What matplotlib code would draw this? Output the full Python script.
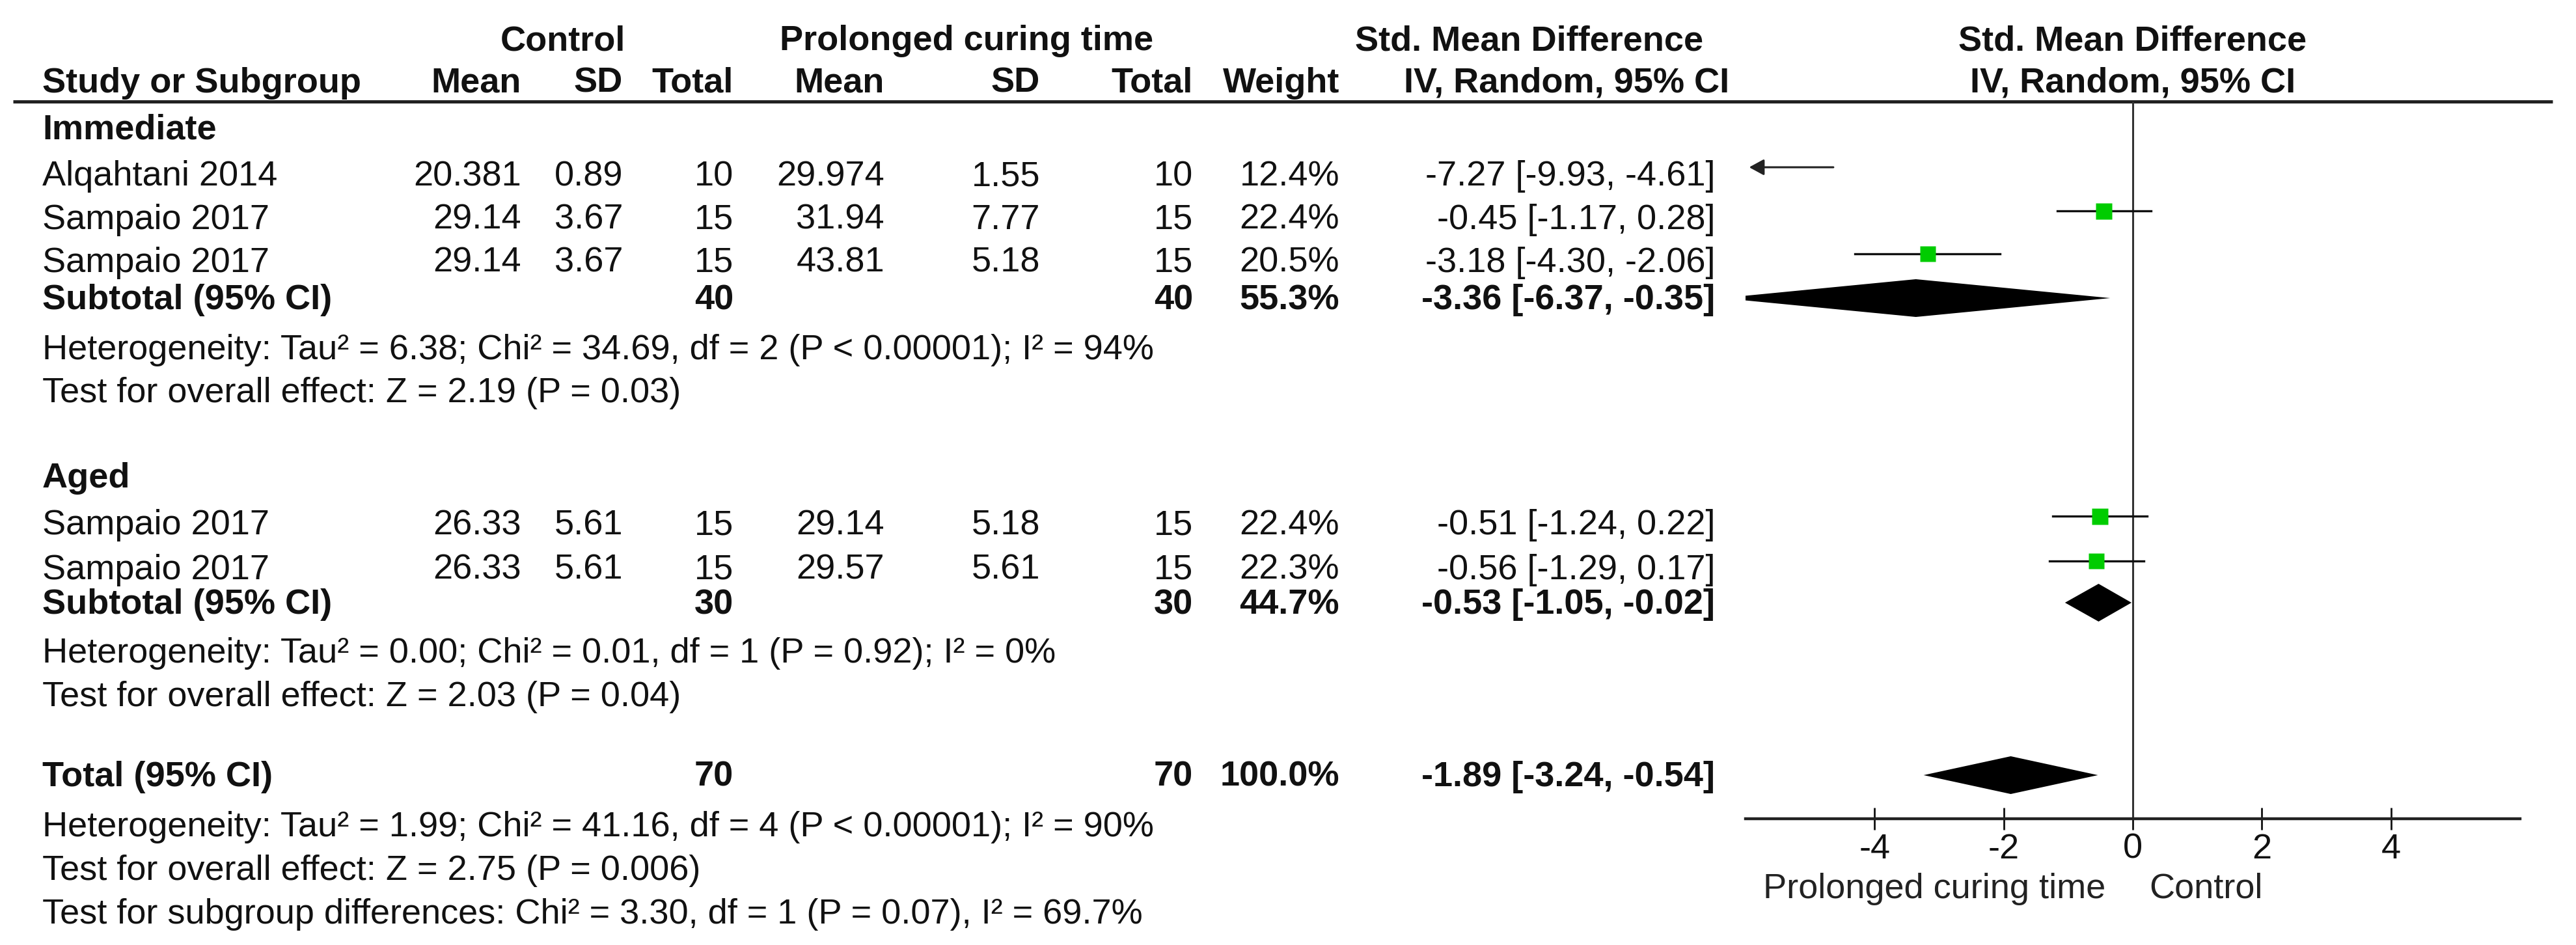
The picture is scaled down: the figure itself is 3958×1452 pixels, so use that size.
import matplotlib
matplotlib.use('Agg')
import matplotlib.pyplot as plt
from matplotlib.patches import Polygon

plt.rcParams['font.family'] = ['Liberation Sans', 'DejaVu Sans']

# study level data
studies = ['Alqahtani 2014', 'Sampaio 2017', 'Sampaio 2017', 'Sampaio 2017', 'Sampaio 2017']
ctrl_mean = [20.381, 29.14, 29.14, 26.33, 26.33]
ctrl_sd = [0.89, 3.67, 3.67, 5.61, 5.61]
ctrl_n = [10, 15, 15, 15, 15]
exp_mean = [29.974, 31.94, 43.81, 29.14, 29.57]
exp_sd = [1.55, 7.77, 5.18, 5.18, 5.61]
exp_n = [10, 15, 15, 15, 15]
weight = [12.4, 22.4, 20.5, 22.4, 22.3]
smd = [-7.27, -0.45, -3.18, -0.51, -0.56]
ci_lo = [-9.93, -1.17, -4.30, -1.24, -1.29]
ci_hi = [-4.61, 0.28, -2.06, 0.22, 0.17]

# subgroups + total
groups = ['Immediate', 'Aged']
group_rows = [[0, 1, 2], [3, 4]]
sub_ctrl_n = [40, 30, 70]
sub_exp_n = [40, 30, 70]
sub_weight = [55.3, 44.7, 100.0]
sub_smd = [-3.36, -0.53, -1.89]
sub_lo = [-6.37, -1.05, -3.24]
sub_hi = [-0.35, -0.02, -0.54]
sub_notes = [
    ['Heterogeneity: Tau² = 6.38; Chi² = 34.69, df = 2 (P < 0.00001); I² = 94%',
     'Test for overall effect: Z = 2.19 (P = 0.03)'],
    ['Heterogeneity: Tau² = 0.00; Chi² = 0.01, df = 1 (P = 0.92); I² = 0%',
     'Test for overall effect: Z = 2.03 (P = 0.04)'],
    ['Heterogeneity: Tau² = 1.99; Chi² = 41.16, df = 4 (P < 0.00001); I² = 90%',
     'Test for overall effect: Z = 2.75 (P = 0.006)',
     'Test for subgroup differences: Chi² = 3.30, df = 1 (P = 0.07), I² = 69.7%'],
]

xticks = [-4, -2, 0, 2, 4]
left_label = 'Prolonged curing time'
right_label = 'Control'

W, H = 3958, 1452
fs = 39
fig = plt.figure(figsize=(W / 100, H / 100), dpi=100)
bg = fig.add_axes([0, 0, 1, 1])
bg.set_xlim(0, W)
bg.set_ylim(H, 0)
bg.axis('off')

# column right edges (px)
cols = [801, 957, 1127, 1359, 1598, 1833, 2058]
ci_x = 2635
x_left = 65
zero_px, unit_px = 3277, 99.2

def txt(x, y, s, ha='right', bold=False):
    bg.text(x, y, s, ha=ha, va='baseline', fontsize=fs,
            fontweight='bold' if bold else 'normal', color='#111111')

# headers
for s, xc in [('Control', 865), ('Prolonged curing time', 1485),
              ('Std. Mean Difference', 2350), ('Std. Mean Difference', zero_px)]:
    txt(xc, 77, s, ha='center', bold=True)
txt(x_left, 142, 'Study or Subgroup', ha='left', bold=True)
for s, xr in zip(['Mean', 'SD', 'Total', 'Mean', 'SD', 'Total', 'Weight'], cols):
    txt(xr, 142, s, bold=True)
txt(2657, 142, 'IV, Random, 95% CI', bold=True)
txt(zero_px, 142, 'IV, Random, 95% CI', ha='center', bold=True)
bg.hlines(156, 20, 3922, color='#222222', lw=3.6)

# forest axes, y in pixel units of the figure
ax = fig.add_axes([(zero_px - 6 * unit_px) / W, 0, 12 * unit_px / W, 1])
ax.patch.set_alpha(0)
ax.set_xlim(-6, 6)
ax.set_ylim(H, 0)
for k in ['top', 'left', 'right']:
    ax.spines[k].set_visible(False)
ax.spines['bottom'].set_position(('data', 1258))
ax.spines['bottom'].set_linewidth(3.2)
ax.spines['bottom'].set_color('#222222')
ax.set_yticks([])
ax.set_xticks(xticks)
ax.set_xticklabels([str(t) for t in xticks])
ax.tick_params(axis='x', direction='inout', length=25, width=2, pad=3,
               labelsize=fs, colors='#111111')
ax.vlines(0, 156, 1258, color='#333333', lw=2.2)

def diamond(y, est, lo, hi, h=29):
    ax.add_patch(Polygon([(lo, y), (est, y - h), (hi, y), (est, y + h)],
                         closed=True, color='black', lw=0))

section_base = [[213, 285, 352, 418, 475, 552, 618], [749, 821, 890, 943, 1018, 1085]]
for g, name in enumerate(groups):
    base = section_base[g]
    txt(x_left, base[0], name, ha='left', bold=True)
    for j, i in enumerate(group_rows[g]):
        y = base[1 + j]
        txt(x_left, y, studies[i], ha='left')
        vals = [f'{ctrl_mean[i]:g}', f'{ctrl_sd[i]:g}', str(ctrl_n[i]),
                f'{exp_mean[i]:g}', f'{exp_sd[i]:g}', str(exp_n[i]), f'{weight[i]:.1f}%']
        for s, xr in zip(vals, cols):
            txt(xr, y, s)
        txt(ci_x, y, f'{smd[i]:.2f} [{ci_lo[i]:.2f}, {ci_hi[i]:.2f}]')
        ym = y - 28
        if smd[i] < -6:
            ax.annotate('', xy=(-5.97, ym), xytext=(ci_hi[i], ym),
                        arrowprops=dict(arrowstyle='-|>,head_length=0.55,head_width=0.3',
                                        color='#222222', lw=2.2, mutation_scale=25))
        else:
            ax.plot([ci_lo[i], ci_hi[i]], [ym, ym], color='#111111', lw=2.4)
            ax.plot(smd[i], ym, marker='s', ms=18 * (weight[i] / 22.4) ** 0.5,
                    color='#00cc00', mec='none')
    ys = base[len(group_rows[g]) + 1]
    txt(x_left, ys, 'Subtotal (95% CI)', ha='left', bold=True)
    for s, xr in zip([str(sub_ctrl_n[g]), str(sub_exp_n[g]), f'{sub_weight[g]:.1f}%'],
                     [cols[2], cols[5], cols[6]]):
        txt(xr, ys, s, bold=True)
    txt(ci_x, ys, f'{sub_smd[g]:.2f} [{sub_lo[g]:.2f}, {sub_hi[g]:.2f}]', bold=True)
    diamond(ys - 17, sub_smd[g], sub_lo[g], sub_hi[g])
    for k, note in enumerate(sub_notes[g]):
        txt(x_left, base[len(group_rows[g]) + 2 + k], note, ha='left')

# overall
yt = 1208
txt(x_left, yt, 'Total (95% CI)', ha='left', bold=True)
for s, xr in zip([str(sub_ctrl_n[2]), str(sub_exp_n[2]), f'{sub_weight[2]:.1f}%'],
                 [cols[2], cols[5], cols[6]]):
    txt(xr, yt, s, bold=True)
txt(ci_x, yt, f'{sub_smd[2]:.2f} [{sub_lo[2]:.2f}, {sub_hi[2]:.2f}]', bold=True)
diamond(yt - 17, sub_smd[2], sub_lo[2], sub_hi[2])
for k, note in enumerate(sub_notes[2]):
    txt(x_left, 1285 + 67 * k, note, ha='left')

ax.text(-0.42, 1380, left_label, ha='right', va='baseline', fontsize=fs, color='#222222')
ax.text(0.25, 1380, right_label, ha='left', va='baseline', fontsize=fs, color='#222222')

fig.savefig('out.png', dpi=100)
